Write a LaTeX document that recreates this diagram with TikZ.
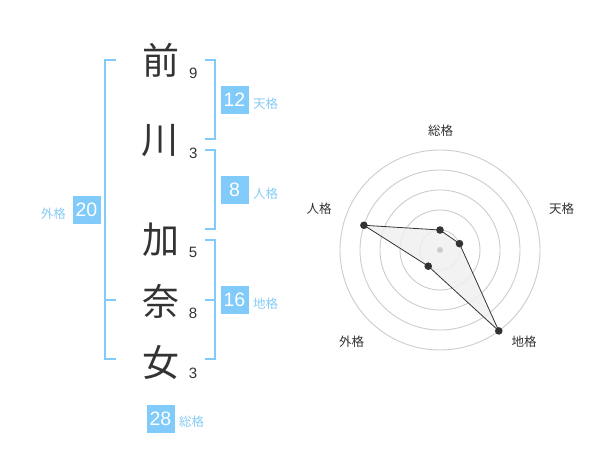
\documentclass[tikz,border=0pt]{standalone}
\usepackage{fontspec}
\setmainfont{Liberation Sans}
\newfontfamily\jp{Noto Sans CJK JP}
\definecolor{skyb}{HTML}{80CBFA}
\definecolor{skyt}{HTML}{86CCF6}
\definecolor{ink}{HTML}{333333}
\definecolor{ring}{HTML}{CCCCCC}
\definecolor{fillg}{HTML}{F0F0F0}
\tikzset{
  kanji/.style={inner sep=0pt, text=ink, font=\jp\fontsize{37}{37}\selectfont},
  stroke/.style={inner sep=0pt, text=ink, font=\fontsize{15}{15}\selectfont},
  valbox/.style={fill=skyb, minimum width=28pt, minimum height=28pt, inner sep=0pt, text=white, font=\fontsize{19.5}{19.5}\selectfont},
  vallab/.style={inner sep=0pt, text=skyt, font=\jp\fontsize{12.5}{12.5}\selectfont},
  brk/.style={draw=skyb, line width=2pt},
  axlab/.style={inner sep=0pt, text=ink, font=\jp\fontsize{12.5}{12.5}\selectfont},
  ringc/.style={draw=ring, line width=0.9pt},
  dotc/.style={fill=ink},
}
\begin{document}
\begin{tikzpicture}[x=1pt,y=-1pt]
\useasboundingbox (0,0) rectangle (600,470);
% kanji column
\node[kanji] (k1) at (161,60) {前};
\node[kanji] (k2) at (160,141) {川};
\node[kanji] (k3) at (160.5,240) {加};
\node[kanji] (k4) at (160.5,301.5) {奈};
\node[kanji] (k5) at (160.5,363) {女};
\node[stroke] (n1) at (193.3,73.3) {9};
\node[stroke] (n2) at (193.3,153) {3};
\node[stroke] (n3) at (193,252.7) {5};
\node[stroke] (n4) at (193,313.3) {8};
\node[stroke] (n5) at (193,373.3) {3};
% brackets
\draw[brk] (205,60) -- (215,60) -- (215,139.3) -- (205,139.3);
\draw[brk] (205,150) -- (215,150) -- (215,229.3) -- (205,229.3);
\draw[brk] (205,240) -- (215,240) -- (215,359.3) -- (205,359.3);
\draw[brk] (205,300) -- (215,300);
\draw[brk] (116,60) -- (105,60) -- (105,359.3) -- (116,359.3);
\draw[brk] (105,300) -- (116,300);
% value boxes
\node[valbox] (ten) at (234.5,100) {12};
\node[vallab, anchor=west] (tenl) at (253,104) {天格};
\node[valbox] (jin) at (234.5,190) {8};
\node[vallab, anchor=west] (jinl) at (253,194) {人格};
\node[valbox] (chi) at (234.5,300) {16};
\node[vallab, anchor=west] (chil) at (253,304) {地格};
\node[valbox] (gai) at (86.5,210) {20};
\node[vallab, anchor=east] (gail) at (66,213.5) {外格};
\node[valbox] (sou) at (160.5,419) {28};
\node[vallab, anchor=west] (soul) at (179,422) {総格};
% radar
\begin{scope}[shift={(440,250)}]
  \foreach \r in {20,40,60,80,100} \draw[ringc] (0,0) circle[radius=\r pt];
  \coordinate (pS) at (-90:20);
  \coordinate (pT) at (-18:20.5);
  \coordinate (pC) at (54:100);
  \coordinate (pG) at (126:20);
  \coordinate (pJ) at (198:80);
  \filldraw[fill=fillg, fill opacity=0.85, draw=ink, line width=0.8pt] (pS) -- (pT) -- (pC) -- (pG) -- (pJ) -- cycle;
  \fill[ring] (0,0) circle[radius=3pt];
  \foreach \p in {pS,pT,pC,pG,pJ} \fill[dotc] (\p) circle[radius=3.8pt];
\end{scope}
\node[axlab] (aS) at (440.7,130.7) {総格};
\node[axlab] (aT) at (561.7,209) {天格};
\node[axlab] (aJ) at (319,209) {人格};
\node[axlab] (aG) at (351.7,341.7) {外格};
\node[axlab] (aC) at (524,341.7) {地格};
\end{tikzpicture}
\end{document}
